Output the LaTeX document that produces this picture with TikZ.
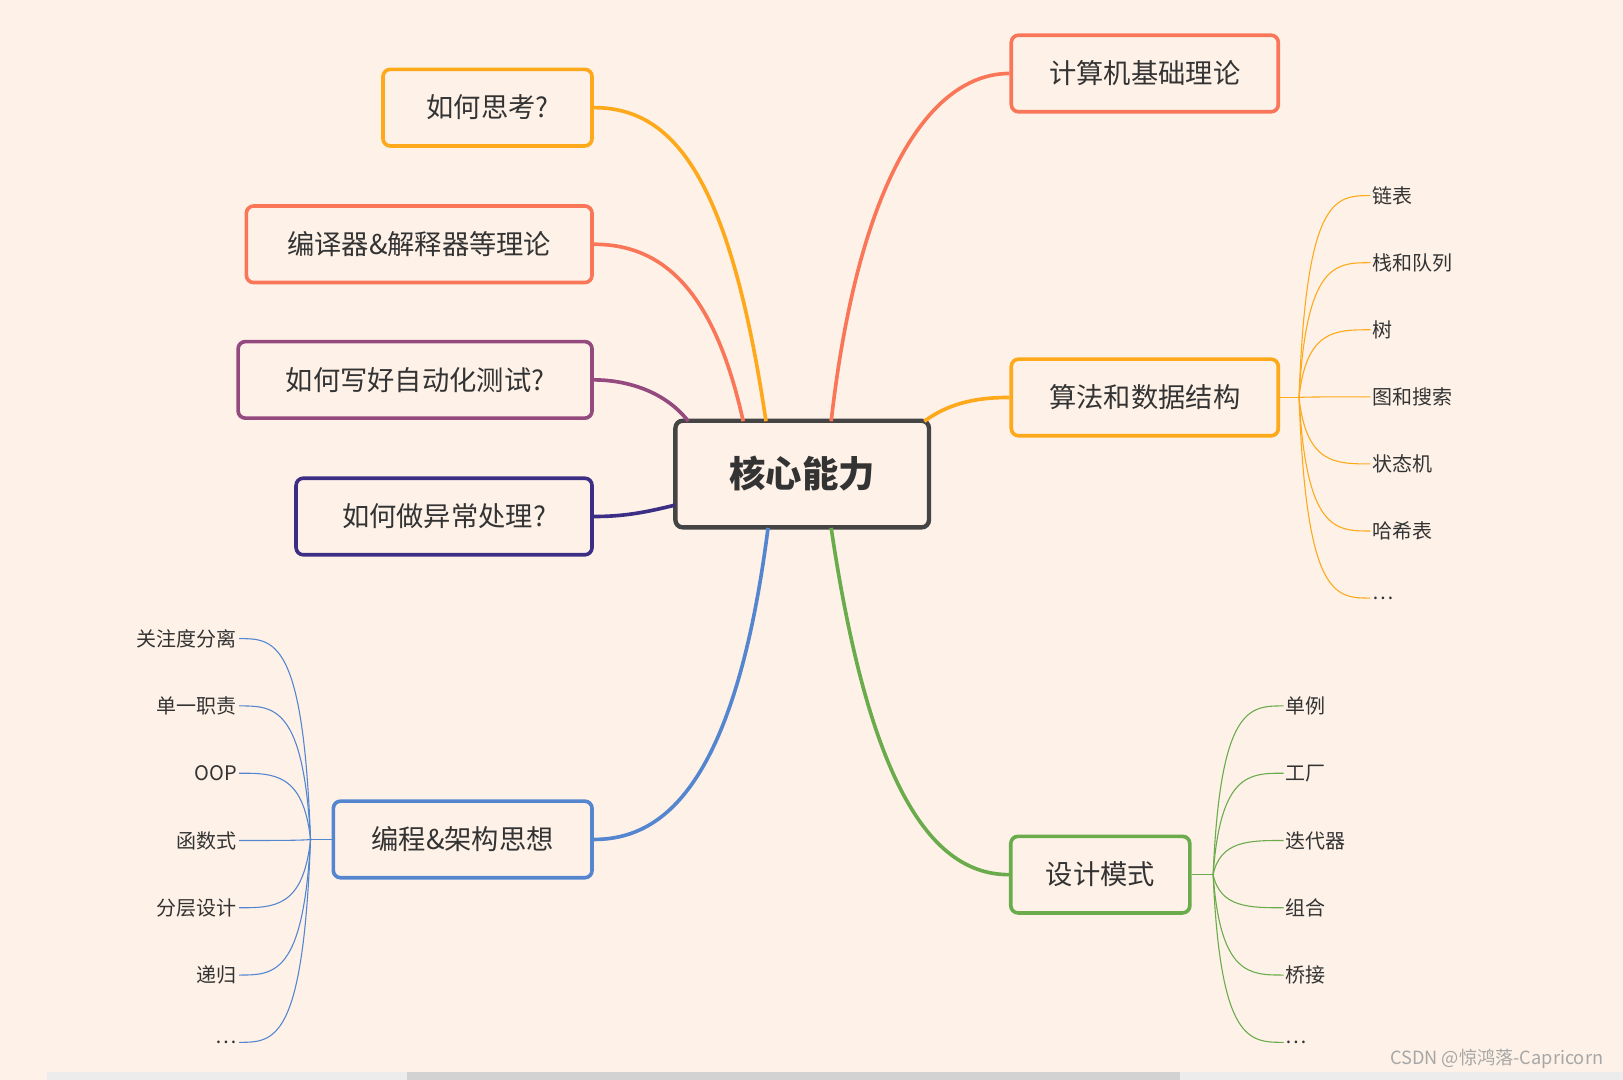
\documentclass[tikz,border=0pt]{standalone}
\usepackage{fontspec}
\setmainfont{Noto Sans CJK SC}
\usetikzlibrary{positioning}
\definecolor{bgpeach}{HTML}{FEF2E8}
\definecolor{corange}{HTML}{FDA91B}
\definecolor{ccoral}{HTML}{FA7659}
\definecolor{cpurple}{HTML}{94497F}
\definecolor{cindigo}{HTML}{3C2E85}
\definecolor{cblue}{HTML}{5486CF}
\definecolor{cgreen}{HTML}{6AAB4B}
\definecolor{ccore}{HTML}{444444}
\definecolor{ctext}{HTML}{333333}
\begin{document}
\begin{tikzpicture}[
        x=0.02cm, y=-0.02cm,
        topic/.style={rectangle, draw, line width=2pt, rounded corners=4pt, fill=bgpeach, minimum height=1.48cm, font=\fontsize{15}{18}\selectfont, text=ctext, inner sep=0pt},
        core/.style={topic, draw=ccore, line width=2.4pt, font=\fontsize{20}{24}\selectfont\bfseries},
        leaf/.style={font=\fontsize{11}{13}\selectfont, text=ctext, inner sep=1pt},
        link/.style={line width=2pt},
        twig/.style={line width=0.6pt}
    ]
        % Background
        \fill[bgpeach] (0,0) rectangle (1568,1043);
        \useasboundingbox (0,0) rectangle (1568,1043);
        \fill[gray!15] (45,1036) rectangle (1568,1043);
        \fill[gray!35] (393,1036) rectangle (1140,1043);

        % Nodes
        \node [core, minimum width=4.9cm, minimum height=2.06cm] (core) at (775,458) {核心能力};
        \node [topic, draw=corange, minimum width=4.04cm] (think) at (471,104) {如何思考?};
        \node [topic, draw=ccoral, minimum width=6.68cm] (compiler) at (405,236) {编译器\&解释器等理论};
        \node [topic, draw=cpurple, minimum width=6.84cm] (test) at (401,367) {如何写好自动化测试?};
        \node [topic, draw=cindigo, minimum width=5.72cm] (except) at (429,499) {如何做异常处理?};
        \node [topic, draw=cblue, minimum width=5cm] (arch) at (447,811) {编程\&架构思想};
        \node [topic, draw=ccoral, minimum width=5.16cm] (basics) at (1106,71) {计算机基础理论};
        \node [topic, draw=corange, minimum width=5.16cm] (algo) at (1106,384) {算法和数据结构};
        \node [topic, draw=cgreen, minimum width=3.46cm] (pattern) at (1063,845) {设计模式};

        % Edges
        \draw [link, corange] (740,407) .. controls (705,170) and (650,104) .. (think.east);
        \draw [link, ccoral] (718,407) .. controls (690,280) and (640,236) .. (compiler.east);
        \draw [link, cpurple] (665,407) .. controls (640,375) and (600,367) .. (test.east);
        \draw [link, cindigo] (652,488) .. controls (620,496) and (600,499) .. (except.east);
        \draw [link, cblue] (742,510) .. controls (710,760) and (640,811) .. (arch.east);
        \draw [link, ccoral] (803,407) .. controls (830,170) and (900,71) .. (basics.west);
        \draw [link, corange] (893,407) .. controls (920,387) and (950,384) .. (algo.west);
        \draw [link, cgreen] (803,510) .. controls (840,760) and (900,845) .. (pattern.west);

        % Leaves
        \coordinate (algofork) at (1255,384);
        \draw [twig, corange] (algo.east) -- (algofork);
        \foreach \t [count=\i from 0] in {链表,栈和队列,树,图和搜索,状态机,哈希表,…} {
            \node [leaf, anchor=west] (algo\i) at (1324,189+64.8*\i) {\t};
            \draw [twig, corange] (algofork) .. controls (1262,189+64.8*\i) and (1290,189+64.8*\i) .. (algo\i.west);
        }
        \coordinate (patfork) at (1172,845);
        \draw [twig, cgreen] (pattern.east) -- (patfork);
        \foreach \t [count=\i from 0] in {单例,工厂,迭代器,组合,桥接,…} {
            \node [leaf, anchor=west] (pat\i) at (1240,682+65*\i) {\t};
            \draw [twig, cgreen] (patfork) .. controls (1179,682+65*\i) and (1207,682+65*\i) .. (pat\i.west);
        }
        \coordinate (archfork) at (300,811);
        \draw [twig, cblue] (arch.west) -- (archfork);
        \foreach \t [count=\i from 0] in {关注度分离,单一职责,OOP,函数式,分层设计,递归,…} {
            \node [leaf, anchor=east] (arch\i) at (231,617+65*\i) {\t};
            \draw [twig, cblue] (archfork) .. controls (293,617+65*\i) and (265,617+65*\i) .. (arch\i.east);
        }

        % Watermark
        \node [anchor=east, text=gray!70, font=\fontsize{10}{12}\selectfont] (mark) at (1555,1023) {CSDN @惊鸿落-Capricorn};
    \end{tikzpicture}
\end{document}
